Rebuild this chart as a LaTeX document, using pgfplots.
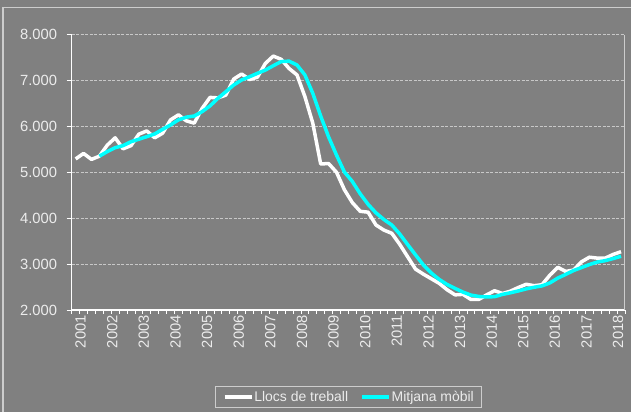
\documentclass[border=0pt]{standalone}
\usepackage{fontspec}
\setmainfont{Liberation Sans}
\usepackage{pgfplots}
\pgfplotsset{compat=1.18}

\definecolor{bgc}{RGB}{128,128,128}
\definecolor{framec}{RGB}{205,205,205}
\definecolor{gridc}{RGB}{200,200,200}
\definecolor{txtc}{RGB}{236,236,236}
\definecolor{mobil}{RGB}{0,255,255}

\begin{document}
\begin{tikzpicture}
\useasboundingbox (0,0) rectangle (631bp,412bp);
\fill[bgc] (0,0) rectangle (631bp,412bp);
\draw[framec, line width=1.5bp] (3bp,-2bp) -- (3bp,404.7bp) -- (633bp,404.7bp);
\begin{axis}[
    at={(71.7bp,102bp)}, anchor=south west,
    scale only axis,
    width=553.3bp, height=275.5bp,
    xmin=-0.5, xmax=69.5,
    ymin=2000, ymax=8000,
    ytick={2000,3000,...,8000},
    xtick={0,4,...,68},
    xticklabels={2001,2002,2003,2004,2005,2006,2007,2008,2009,2010,2011,2012,2013,2014,2015,2016,2017,2018},
    minor xtick={-0.5,0.5,...,69.5},
    axis lines*=left,
    axis line style={-, white, line width=1.2bp},
    tick align=outside,
    major tick length=5bp,
    minor tick length=4bp,
    major x tick style={draw=none},
    every tick/.style={white, line width=0.8bp},
    minor x tick style={white, line width=0.8bp},
    ymajorgrids,
    major grid style={gridc, line width=0.7bp, dash pattern=on 3bp off 1.5bp},
    tick label style={text=txtc, font=\fontsize{14.8}{17}\selectfont},
    yticklabel style={inner sep=0pt, xshift=-9.5bp,
        /pgf/number format/.cd, 1000 sep={.}, assume math mode=true},
    xticklabel style={rotate=90, anchor=east, inner sep=0pt, yshift=-5bp},
    legend columns=2,
    legend style={at={(0.5009,-0.3158)}, anchor=center,
        fill=bgc, draw=framec, line width=0.8bp, text=txtc,
        font=\fontsize{14}{17}\selectfont,
        inner xsep=7bp, inner ysep=3.5bp,
        nodes={inner sep=1bp},
        /tikz/every even column/.append style={column sep=11bp}},
    legend image code/.code={\draw[#1, line width=3.5bp] (0bp,0bp) -- (27bp,0bp);},
    legend cell align=left,
]
\addplot[white, line width=3.5bp, line join=round] coordinates {
(0,5290) (1,5410) (2,5280) (3,5350) (4,5590) (5,5750) (6,5510) (7,5580)
(8,5830) (9,5900) (10,5750) (11,5850) (12,6140) (13,6250) (14,6120) (15,6070)
(16,6390) (17,6630) (18,6620) (19,6680) (20,7030) (21,7140) (22,7020) (23,7070)
(24,7370) (25,7530) (26,7460) (27,7260) (28,7120) (29,6650) (30,6070) (31,5180)
(32,5190) (33,5000) (34,4620) (35,4340) (36,4150) (37,4130) (38,3850) (39,3740)
(40,3670) (41,3430) (42,3160) (43,2890) (44,2780) (45,2680) (46,2580) (47,2440)
(48,2330) (49,2340) (50,2230) (51,2230) (52,2330) (53,2420) (54,2360) (55,2410)
(56,2490) (57,2560) (58,2530) (59,2550) (60,2760) (61,2930) (62,2840) (63,2870)
(64,3050) (65,3150) (66,3130) (67,3130) (68,3210) (69,3270)
};
\addlegendentry{Llocs de treball}
\addplot[mobil, line width=3.5bp, line join=round] coordinates {
(3,5350) (4,5450) (5,5535) (6,5580) (7,5665) (8,5720) (9,5775) (10,5835)
(11,5935) (12,6030) (13,6140) (14,6200) (15,6225) (16,6320) (17,6445) (18,6610)
(19,6755) (20,6900) (21,7010) (22,7080) (23,7155) (24,7225) (25,7320) (26,7410)
(27,7420) (28,7335) (29,7120) (30,6720) (31,6225) (32,5770) (33,5375) (34,5005)
(35,4800) (36,4530) (37,4300) (38,4115) (39,3970) (40,3850) (41,3655) (42,3425)
(43,3200) (44,2980) (45,2805) (46,2665) (47,2555) (48,2470) (49,2390) (50,2325)
(51,2295) (52,2285) (53,2290) (54,2340) (55,2375) (56,2415) (57,2460) (58,2495)
(59,2525) (60,2590) (61,2695) (62,2775) (63,2860) (64,2925) (65,2990) (66,3045)
(67,3075) (68,3120) (69,3170)
};
\addlegendentry{Mitjana mòbil}
\draw[framec, line width=1.2bp] (rel axis cs:1,0) -- (rel axis cs:1,1);
\end{axis}
\end{tikzpicture}
\end{document}
